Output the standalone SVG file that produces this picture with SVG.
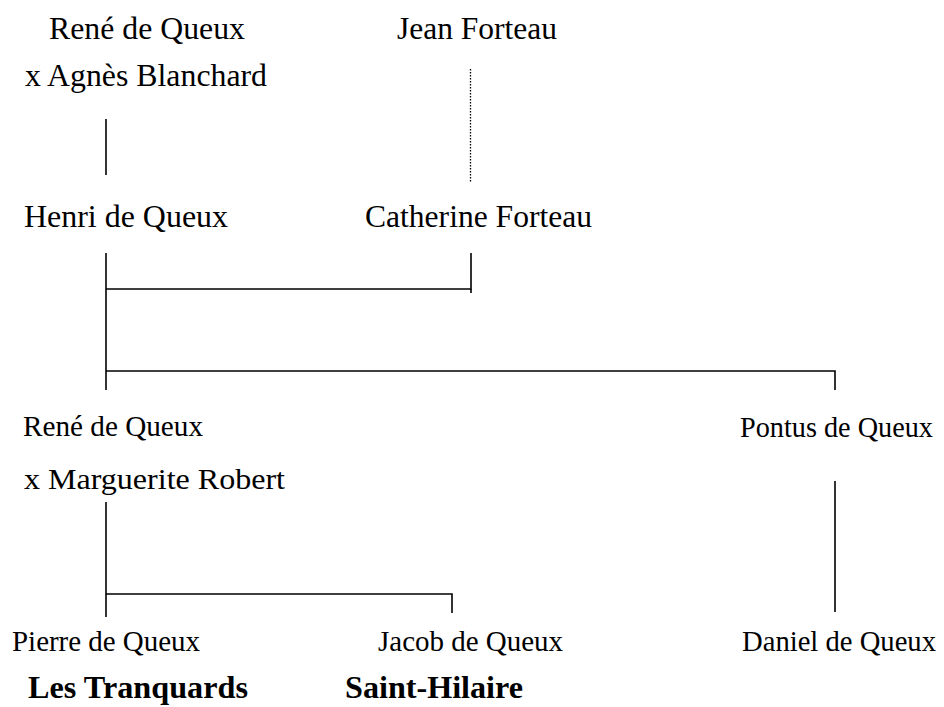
<svg xmlns="http://www.w3.org/2000/svg" width="944" height="707" viewBox="0 0 944 707">
<style>
  text { font-family: "Liberation Serif", "Times New Roman", serif; fill: #000; }
  .t1 { font-size: 32px; }
  .t2 { font-size: 30px; }
  .b { font-size: 32px; font-weight: bold; }
  .ln { stroke: #000; stroke-width: 1.6; fill: none; }
  .dot { stroke: #000; stroke-width: 1.3; stroke-dasharray: 1.5 1.5; fill: none; }
</style>
<rect width="944" height="707" fill="#fff"/>
<g id="connectors">
  <line class="ln" x1="106" y1="119" x2="106" y2="175"/>
  <line class="dot" x1="470.5" y1="69" x2="470.5" y2="183"/>
  <line class="ln" x1="106" y1="253" x2="106" y2="390"/>
  <polyline class="ln" points="106,289 471,289 471,253"/>
  <line class="ln" x1="471" y1="289" x2="471" y2="293"/>
  <polyline class="ln" points="106,371 835,371 835,390"/>
  <line class="ln" x1="106" y1="502" x2="106" y2="617"/>
  <polyline class="ln" points="106,594 452,594 452,613"/>
  <line class="ln" x1="835" y1="481" x2="835" y2="612"/>
</g>
<g id="rene1">
  <text class="t1" x="49" y="39" textLength="196" lengthAdjust="spacingAndGlyphs">René de Queux</text>
  <text class="t1" x="25" y="86" textLength="242" lengthAdjust="spacingAndGlyphs">x Agnès Blanchard</text>
</g>
<g id="jean">
  <text class="t1" x="397" y="39" textLength="160" lengthAdjust="spacingAndGlyphs">Jean Forteau</text>
</g>
<g id="henri">
  <text class="t1" x="24" y="227" textLength="204" lengthAdjust="spacingAndGlyphs">Henri de Queux</text>
</g>
<g id="catherine">
  <text class="t1" x="365" y="227" textLength="227" lengthAdjust="spacingAndGlyphs">Catherine Forteau</text>
</g>
<g id="rene2">
  <text class="t2" x="23" y="436" textLength="180" lengthAdjust="spacingAndGlyphs">René de Queux</text>
  <text class="t2" x="24" y="489" textLength="261" lengthAdjust="spacingAndGlyphs">x Marguerite Robert</text>
</g>
<g id="pontus">
  <text class="t2" style="font-size:29px" x="740" y="437" textLength="193" lengthAdjust="spacingAndGlyphs">Pontus de Queux</text>
</g>
<g id="pierre">
  <text class="t2" x="12" y="651" textLength="188" lengthAdjust="spacingAndGlyphs">Pierre de Queux</text>
  <text class="b" x="28" y="698" textLength="220" lengthAdjust="spacingAndGlyphs">Les Tranquards</text>
</g>
<g id="jacob">
  <text class="t2" x="378" y="651" textLength="185" lengthAdjust="spacingAndGlyphs">Jacob de Queux</text>
  <text class="b" x="345" y="698" textLength="178" lengthAdjust="spacingAndGlyphs">Saint-Hilaire</text>
</g>
<g id="daniel">
  <text class="t2" x="742" y="651" textLength="194" lengthAdjust="spacingAndGlyphs">Daniel de Queux</text>
</g>
</svg>
